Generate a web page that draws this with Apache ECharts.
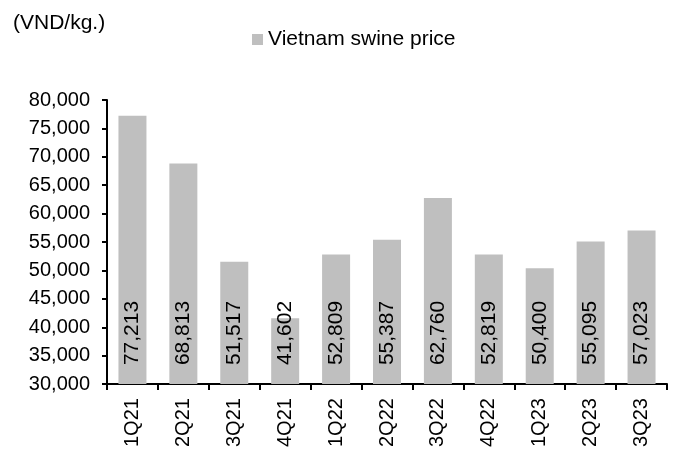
<!DOCTYPE html>
<html>
<head>
<meta charset="utf-8">
<script src="https://cdn.jsdelivr.net/npm/echarts@6/dist/echarts.min.js"></script>
<style>
  html, body { margin: 0; padding: 0; background: #fff; }
  #main { width: 681px; height: 450px; }
</style>
</head>
<body>
<div id="main"></div>
<script>
var quarters = ['1Q21', '2Q21', '3Q21', '4Q21', '1Q22', '2Q22', '3Q22', '4Q22', '1Q23', '2Q23', '3Q23'];
var swinePrice = [77213, 68813, 51517, 41602, 52809, 55387, 62760, 52819, 50400, 55095, 57023];
var seriesName = 'Vietnam swine price';
var unitLabel = '(VND/kg.)';

var chartDom = document.getElementById('main');
var myChart = echarts.init(chartDom);
var option;

function fmt(v) {
    return Math.round(v).toString().replace(/\B(?=(\d{3})+(?!\d))/g, ',');
}

var font = 'Liberation Sans, Arial, sans-serif';

option = {
    animation: false,
    title: {
        text: unitLabel,
        left: 8,
        top: 8,
        textStyle: { fontFamily: font, fontSize: 21, fontWeight: 'normal', color: '#000' }
    },
    legend: {
        data: [seriesName],
        left: 247,
        top: 24,
        icon: 'rect',
        itemWidth: 11,
        itemHeight: 11,
        itemGap: 4,
        textStyle: { fontFamily: font, fontSize: 21, color: '#000' }
    },
    grid: {
        left: 107,
        right: 14,
        top: 100,
        bottom: 63
    },
    xAxis: {
        type: 'category',
        data: quarters,
        axisLine: { lineStyle: { color: '#000', width: 2 } },
        axisTick: { show: true, length: 6, lineStyle: { color: '#000', width: 2 } },
        axisLabel: {
            rotate: 90,
            margin: 14,
            color: '#000',
            fontFamily: font,
            fontSize: 20
        }
    },
    yAxis: {
        type: 'value',
        min: 30000,
        max: 80000,
        interval: 5000,
        axisLine: { show: true, lineStyle: { color: '#000', width: 2 } },
        axisTick: { show: true, length: 5, lineStyle: { color: '#000', width: 2 } },
        splitLine: { show: false },
        axisLabel: {
            margin: 17,
            color: '#000',
            fontFamily: font,
            fontSize: 20,
            formatter: function (v) { return fmt(v); }
        }
    },
    series: [
        {
            name: seriesName,
            type: 'bar',
            data: swinePrice,
            barWidth: '55%',
            itemStyle: { color: '#bfbfbf' },
            label: {
                show: true,
                position: 'insideBottom',
                rotate: 90,
                align: 'left',
                verticalAlign: 'middle',
                distance: 19,
                color: '#000',
                fontFamily: font,
                fontSize: 21,
                formatter: function (p) { return fmt(p.value); }
            }
        }
    ]
};

option && myChart.setOption(option);
</script>
</body>
</html>
